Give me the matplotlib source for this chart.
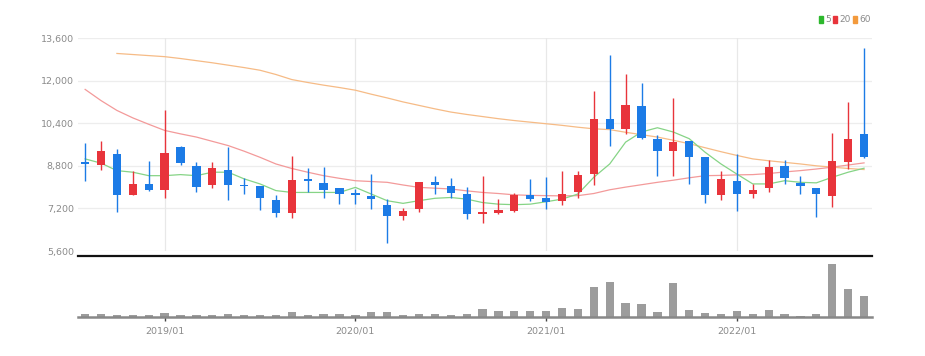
import matplotlib
matplotlib.use("Agg")
import matplotlib.pyplot as plt
from matplotlib.patches import Patch
import numpy as np
import pandas as pd

# ---------------- monthly data, 2018/08 .. 2022/09 ----------------
months = pd.date_range("2018-08-01", periods=50, freq="MS")

open_ = [8950, 8840, 9230, 7700, 8130, 7900, 9500, 8780, 8080, 8650,
         8090, 8050, 7510, 7020, 8300, 8150, 7950, 7780, 7680, 7330,
         6920, 7170, 8190, 8050, 7760, 6980, 7020, 7110, 7700, 7580,
         7490, 7800, 8490, 10570, 10190, 11030, 9820, 9350, 9730, 9120,
         7700, 8240, 7760, 7950, 8780, 8160, 7970, 7680, 8930, 9980]
high = [9650, 9730, 9450, 8610, 8990, 10880, 9530, 8950, 8950, 9500,
        8330, 8050, 7710, 9150, 8710, 8750, 7950, 7920, 8490, 7550,
        7200, 8180, 8430, 8360, 7990, 8430, 7550, 7780, 8310, 8370,
        8590, 8590, 11610, 12960, 12230, 11910, 9970, 11360, 9730, 9120,
        8590, 9250, 8120, 9020, 9020, 8430, 7970, 10030, 11200, 13240]
low = [8240, 8660, 7070, 7700, 7870, 7610, 8820, 7800, 7980, 7530,
       7760, 7150, 6880, 6830, 7800, 7600, 7360, 7360, 7170, 5910,
       6770, 7070, 7740, 7600, 6800, 6670, 6980, 7050, 7490, 7170,
       7330, 7600, 8090, 9530, 10000, 9820, 8410, 8410, 8120, 7390,
       7510, 7110, 7600, 7800, 8120, 7740, 6880, 7260, 8680, 9100]
close = [8880, 9350, 7710, 8100, 7890, 9290, 8900, 8020, 8710, 8080,
         8030, 7580, 7020, 8280, 8220, 7890, 7760, 7700, 7550, 6900,
         7090, 8180, 8080, 7780, 6980, 7070, 7150, 7700, 7550, 7450,
         7760, 8470, 10570, 10190, 11070, 9850, 9350, 9690, 9120, 7700,
         8310, 7740, 7900, 8770, 8340, 8030, 7740, 8970, 9820, 9120]
volume = [10, 10, 7, 7, 7, 12, 5, 5, 5, 10,
          5, 7, 7, 14, 5, 8, 10, 5, 14, 14,
          5, 8, 8, 5, 8, 23, 17, 17, 17, 19,
          26, 23, 89, 104, 41, 38, 16, 101, 22, 13,
          9, 19, 8, 21, 8, 4, 8, 159, 84, 62]

ma5 = [9060, 8900, 8620, 8560, 8430, 8430, 8470, 8430, 8560, 8560,
       8310, 8120, 7870, 7800, 7800, 7800, 7800, 7990, 7740, 7490,
       7390, 7490, 7580, 7610, 7550, 7420, 7360, 7340, 7360, 7450,
       7550, 7740, 8370, 8870, 9690, 10070, 10230, 10070, 9820, 9310,
       8870, 8490, 8120, 8120, 8240, 8180, 8160, 8370, 8560, 8710]
ma20 = [11670, 11250, 10880, 10600, 10360, 10130, 10000, 9880, 9720, 9560,
        9350, 9120, 8870, 8700, 8560, 8430, 8330, 8240, 8210, 8180,
        8080, 7990, 7960, 7930, 7860, 7800, 7760, 7710, 7690, 7680,
        7670, 7680, 7760, 7900, 8000, 8090, 8180, 8260, 8350, 8430,
        8440, 8460, 8470, 8510, 8570, 8620, 8680, 8750, 8830, 8910]
ma60 = [np.nan, np.nan, 13020, 12980, 12940, 12900, 12830, 12750, 12670, 12580,
        12490, 12390, 12230, 12040, 11930, 11830, 11740, 11640, 11490, 11350,
        11200, 11070, 10940, 10820, 10730, 10650, 10570, 10500, 10440, 10380,
        10320, 10250, 10190, 10160, 10060, 9970, 9880, 9760, 9630, 9480,
        9330, 9190, 9060, 8990, 8930, 8870, 8800, 8750, 8700, 8660]

price_ticks = [5600, 7200, 8800, 10400, 12000, 13600]
year_ticks = ["2019/01", "2020/01", "2021/01", "2022/01"]

# ---------------- colors ----------------
up_col = "#e8343b"
down_col = "#1c7be6"
grey_txt = "#8a8a8a"
narrow = ["Liberation Sans Narrow", "DejaVu Sans"]

x = np.arange(len(months))
o = np.array(open_)
c = np.array(close)
cols = [up_col if cc >= oo else down_col for oo, cc in zip(o, c)]

fig = plt.figure(figsize=(9.25, 3.56), dpi=100)
ax = fig.add_axes([0.0843, 0.2949, 0.8584, 0.5983])
axv = fig.add_axes([0.0843, 0.1096, 0.8584, 0.1713], sharex=ax)

# grid
for t in price_ticks:
    ax.axhline(t, color="#ededed", lw=0.9, zorder=0)
lab_months = [m.strftime("%Y/%m") for m in months]
year_pos = [lab_months.index(t) for t in year_ticks]
for p in year_pos:
    ax.axvline(p, color="#e8e8e8", lw=0.9, zorder=0)

# moving averages
ax.plot(x, ma60, color="#f6bb86", lw=0.9, zorder=1)
ax.plot(x, ma20, color="#f39a9a", lw=0.9, zorder=1)
ax.plot(x, ma5, color="#86d486", lw=0.9, zorder=1)

# candles
ax.vlines(x, low, high, colors=cols, lw=1.0, zorder=2)
body = np.where(np.abs(c - o) < 40, 40, c - o)
ax.bar(x, body, bottom=o, width=0.52, color=cols, zorder=3)

ax.set_xlim(-0.45, 49.5)
ax.set_ylim(5600, 13600)
ax.set_yticks(price_ticks)
ax.set_yticklabels([f"{t:,}" for t in price_ticks], color=grey_txt,
                   fontsize=6.8, family=narrow)
ax.tick_params(axis="y", length=0, pad=3)
ax.tick_params(axis="x", length=0, labelbottom=False)
for s in ax.spines.values():
    s.set_visible(False)

handles = [Patch(color="#2db82d", label="5"),
           Patch(color="#e8343b", label="20"),
           Patch(color="#f39a3c", label="60")]
leg = fig.legend(handles=handles, ncol=3, loc="upper right",
                 bbox_to_anchor=(0.948, 0.975), frameon=False,
                 handlelength=0.45, handleheight=0.8, handletextpad=0.2,
                 columnspacing=0.3, borderpad=0.2,
                 prop={"family": narrow, "size": 6.5})
for t in leg.get_texts():
    t.set_color(grey_txt)

# volume
axv.bar(x, volume, width=0.52, color="#9c9c9c", zorder=2)
axv.set_ylim(0, 183)
axv.set_yticks([])
axv.set_xticks(year_pos)
axv.set_xticklabels(year_ticks, color=grey_txt, fontsize=6.8, family=narrow)
axv.tick_params(axis="x", length=3, width=1, color="#444444", pad=4)
axv.spines["top"].set_color("#111111")
axv.spines["top"].set_linewidth(1.6)
axv.spines["bottom"].set_color("#888888")
axv.spines["bottom"].set_linewidth(1.8)
axv.spines["left"].set_visible(False)
axv.spines["right"].set_visible(False)

fig.savefig("out.png", dpi=100)
